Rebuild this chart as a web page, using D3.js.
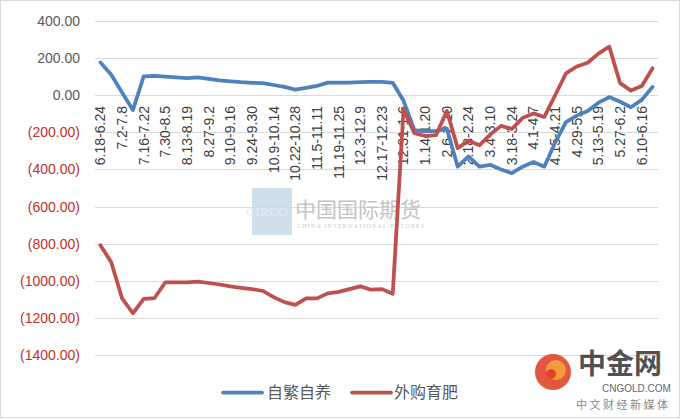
<!DOCTYPE html>
<html><head><meta charset="utf-8">
<script src="https://cdn.jsdelivr.net/npm/d3@7/dist/d3.min.js"></script>
<style>body{margin:0;background:#fff}svg{display:block}</style>
</head><body>
<svg id="c" width="680" height="419"></svg>
<script>
const categories = ["6.18-6.24","6.25-7.1","7.2-7.8","7.9-7.15","7.16-7.22","7.23-7.29","7.30-8.5","8.6-8.12","8.13-8.19","8.20-8.26","8.27-9.2","9.3-9.9","9.10-9.16","9.17-9.23","9.24-9.30","10.1-10.8","10.9-10.14","10.15-10.21","10.22-10.28","10.29-11.4","11.5-11.11","11.12-11.18","11.19-11.25","11.26-12.2","12.3-12.9","12.10-12.16","12.17-12.23","12.24-12.30","12.31-1.6","1.7-1.13","1.14-1.20","1.21-2.5","2.6-2.10","2.11-2.17","2.18-2.24","2.25-3.3","3.4-3.10","3.11-3.17","3.18-3.24","3.25-3.31","4.1-4.7","4.8-4.14","4.15-4.21","4.22-4.28","4.29-5.5","5.6-5.12","5.13-5.19","5.20-5.26","5.27-6.2","6.3-6.9","6.10-6.16","6.17-6.23"];
const selfBred = [177,110,15,-80,102,104,100,96,92,96,88,80,75,70,67,65,55,45,30,40,50,68,68,68,70,72,72,67,-30,-188,-195,-192,-180,-385,-330,-385,-375,-400,-420,-385,-360,-385,-255,-145,-110,-85,-40,-10,-35,-65,-25,45];
const purchased = [-808,-900,-1095,-1175,-1098,-1093,-1008,-1008,-1008,-1005,-1012,-1020,-1030,-1038,-1045,-1055,-1088,-1115,-1130,-1095,-1095,-1068,-1060,-1045,-1030,-1048,-1045,-1070,-75,-205,-220,-215,-85,-285,-245,-270,-212,-165,-182,-122,-98,-117,0,118,155,175,224,262,65,25,50,145];
const seriesNames = ["自繁自养","外购育肥"];
const seriesColors = ["#4f81bd","#c0504d"];
const yTicks = [400,200,0,-200,-400,-600,-800,-1000,-1200,-1400];

const svg = d3.select("#c");
const W=680,H=419;
svg.append("rect").attr("x",0.5).attr("y",0.5).attr("width",W-1).attr("height",H-2)
  .attr("fill","#fff").attr("stroke","#d9d9d9").attr("stroke-width",1);

const x = d3.scaleBand().domain(categories).range([95,658]).padding(0);
const y = d3.scaleLinear().domain([-1400,400]).range([355,21]);
const cx = d => x(d)+x.bandwidth()/2;

// gridlines
svg.append("g").selectAll("line").data(yTicks).join("line")
  .attr("x1",95).attr("x2",658).attr("y1",d=>Math.round(y(d))+0.5).attr("y2",d=>Math.round(y(d))+0.5)
  .attr("stroke","#d9d9d9").attr("stroke-width",1);

// y labels
const fmt = d => d<0 ? "("+d3.format(".2f")(-d)+")" : d3.format(".2f")(d);
const yAxis = d3.axisLeft(y).tickValues(yTicks).tickFormat(fmt).tickSize(0).tickPadding(0);
const ga = svg.append("g").attr("transform","translate(80,0)").call(yAxis);
ga.select(".domain").remove();
ga.selectAll("text").attr("font-family","Liberation Sans, Arial, sans-serif").attr("font-size",14)
  .attr("fill",d=>d<0?"#c0302c":"#595959");

// watermark
const wm = svg.append("g");
wm.append("rect").attr("x",252).attr("y",188).attr("width",40).attr("height",47).attr("fill","#c9d8e8").attr("opacity",0.85);
wm.append("text").attr("x",246).attr("y",216).attr("font-family","Liberation Serif, serif").attr("font-size",13)
  .attr("fill","#e6edf4").attr("letter-spacing",0.5).text("CIRCO");
wm.append("text").attr("x",295).attr("y",217).attr("font-family","Noto Sans CJK SC").attr("font-size",21)
  .attr("fill","#c4c4c4").text("中国国际期货");
wm.append("text").attr("x",297).attr("y",228).attr("font-family","Liberation Serif, serif").attr("font-size",6)
  .attr("fill","#c8c8c8").attr("letter-spacing",1.2).text("CHINA INTERNATIONAL FUTURES");

// x labels
const xAxis = d3.axisBottom(x).tickValues(categories.filter((d,i)=>i%2===0)).tickSize(0).tickPadding(0);
const gx = svg.append("g").attr("transform","translate(0,106)").call(xAxis);
gx.select(".domain").remove();
gx.selectAll("text").attr("transform","rotate(-90)").attr("text-anchor","end")
  .attr("x",0).attr("y",0).attr("dy","0.35em")
  .attr("font-family","Liberation Sans, Arial, sans-serif").attr("font-size",14).attr("fill","#404040");

// lines
const line = d3.line().x((d,i)=>cx(categories[i])).y(d=>y(d));
[selfBred,purchased].forEach((s,k)=>{
  svg.append("path").datum(s).attr("d",line).attr("fill","none")
    .attr("stroke",seriesColors[k]).attr("stroke-width",3.75).attr("stroke-linejoin","round").attr("stroke-linecap","round");
});

// legend
const leg = [{x:223,tx:267},{x:352,tx:394}];
leg.forEach((p,k)=>{
  svg.append("line").attr("x1",p.x).attr("x2",p.x+39).attr("y1",392.5).attr("y2",392.5)
    .attr("stroke",seriesColors[k]).attr("stroke-width",3.75).attr("stroke-linecap","round");
  svg.append("text").attr("x",p.tx).attr("y",398).attr("font-family","Noto Sans CJK SC").attr("font-size",16)
    .attr("fill","#595959").text(seriesNames[k]);
});

// logo
const lg = svg.append("g");
lg.append("circle").attr("cx",553).attr("cy",372).attr("r",18).attr("fill","#e0452c").attr("opacity",0.9);
lg.append("circle").attr("cx",556).attr("cy",370).attr("r",10).attr("fill","#f6a23a").attr("opacity",0.9);
lg.append("circle").attr("cx",551).attr("cy",374).attr("r",5).attr("fill","#e0452c");
lg.append("text").attr("x",578).attr("y",374).attr("font-family","Noto Sans CJK SC").attr("font-weight","bold")
  .attr("font-size",28).attr("fill","#333").attr("opacity",0.85).text("中金网");
lg.append("text").attr("x",602).attr("y",392).attr("font-family","Liberation Sans, Arial").attr("font-size",10)
  .attr("fill","#666").text("CNGOLD.COM");
lg.append("text").attr("x",576).attr("y",409).attr("font-family","Noto Sans CJK SC").attr("font-size",11)
  .attr("fill","#888").attr("letter-spacing",2.5).text("中文财经新媒体");
</script>
</body></html>
